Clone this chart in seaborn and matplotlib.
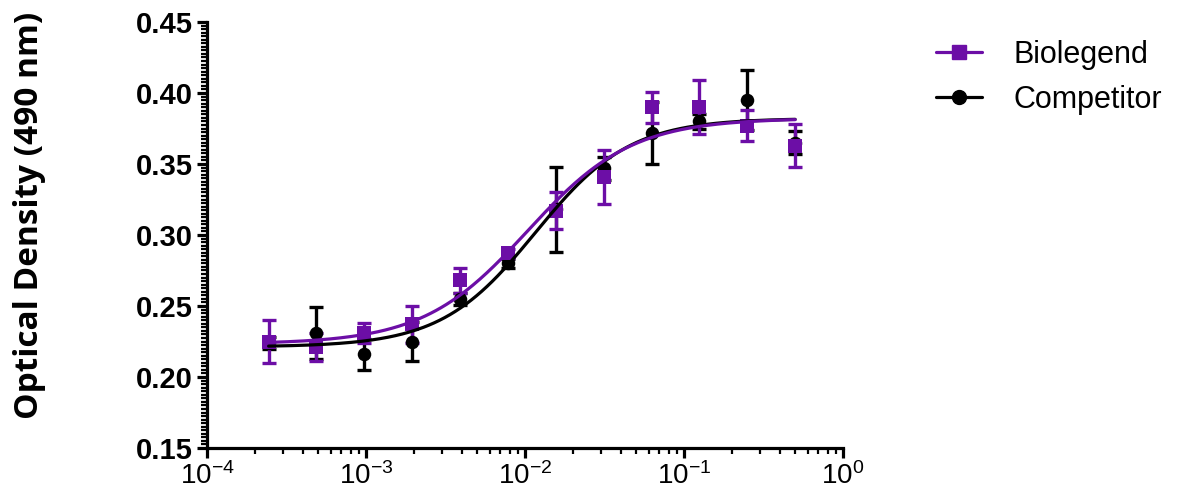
import numpy as np
import pandas as pd
import matplotlib
matplotlib.use('Agg')
import matplotlib.pyplot as plt
import seaborn as sns
from matplotlib.lines import Line2D
from matplotlib.ticker import LogLocator, MultipleLocator, FuncFormatter, NullFormatter

# --- data ---
conc = [0.000244, 0.000488, 0.000977, 0.00195, 0.0039, 0.0078,
        0.0156, 0.03125, 0.0625, 0.125, 0.25, 0.5]
bio_mean = [0.225, 0.221, 0.231, 0.237, 0.268, 0.287,
            0.317, 0.341, 0.390, 0.390, 0.377, 0.363]
bio_err = [0.015, 0.010, 0.007, 0.013, 0.009, 0.003,
           0.013, 0.019, 0.011, 0.019, 0.011, 0.015]
comp_mean = [0.224, 0.231, 0.216, 0.225, 0.255, 0.280,
             0.318, 0.347, 0.372, 0.380, 0.395, 0.365]
comp_err = [0.004, 0.018, 0.011, 0.014, 0.004, 0.003,
            0.030, 0.008, 0.022, 0.005, 0.021, 0.008]

PURPLE = '#6c0ea6'
BLACK = '#000000'

sns.set_style('ticks')
plt.rcParams['font.family'] = ['Liberation Sans', 'DejaVu Sans']
plt.rcParams['mathtext.fontset'] = 'custom'
plt.rcParams['mathtext.rm'] = 'Liberation Sans'
plt.rcParams['mathtext.it'] = 'Liberation Sans'
for k in ['text.color', 'axes.labelcolor', 'xtick.color', 'ytick.color', 'axes.edgecolor']:
    plt.rcParams[k] = 'black'


def fit_4pl(x, y):
    # sigmoidal dose-response, grid over logEC50/hill, bottom/top by least squares
    lx = np.log10(np.asarray(x))
    y = np.asarray(y)
    best = None
    for ec in np.arange(-3.5, -0.5, 0.005):
        for h in np.arange(0.5, 3.0, 0.02):
            s = 1.0 / (1.0 + 10 ** ((ec - lx) * h))
            A = np.column_stack([np.ones_like(s), s])
            coef = np.linalg.lstsq(A, y, rcond=None)[0]
            r = np.sum((A @ coef - y) ** 2)
            if best is None or r < best[0]:
                best = (r, ec, h, coef)
    _, ec, h, coef = best
    xs = np.logspace(lx.min(), lx.max(), 300)
    s = 1.0 / (1.0 + 10 ** ((ec - np.log10(xs)) * h))
    return xs, coef[0] + coef[1] * s


fig = plt.figure(figsize=(11.84, 4.98), dpi=100)
ax = fig.add_axes([207 / 1184, 1 - 448 / 498, (843 - 207) / 1184, (448 - 22) / 498])

series = [('Competitor', comp_mean, comp_err, BLACK, 'o'),
          ('Biolegend', bio_mean, bio_err, PURPLE, 's')]

for name, mean, err, col, mk in series:
    xs, ys = fit_4pl(conc, mean)
    curve = pd.DataFrame({'x': xs, 'y': ys})
    ax.errorbar(conc, mean, yerr=err, fmt='none', ecolor=col, elinewidth=2.4,
                capsize=5.2, capthick=2.4, zorder=3)
    sns.scatterplot(x=conc, y=mean, color=col, marker=mk, s=95, edgecolor=col,
                    linewidth=0, ax=ax, zorder=4)
    sns.lineplot(data=curve, x='x', y='y', color=col, linewidth=2.3, ax=ax, zorder=5)

ax.set_xscale('log')
ax.set_xlim(1e-4, 1)
ax.set_ylim(0.15, 0.45)
ax.xaxis.set_major_locator(LogLocator(base=10, numticks=10))
ax.xaxis.set_minor_locator(LogLocator(base=10, subs=np.arange(2, 10), numticks=20))
ax.xaxis.set_minor_formatter(NullFormatter())
ax.xaxis.set_major_formatter(FuncFormatter(lambda v, p: r'$\mathrm{10^{%d}}$' % int(round(np.log10(v)))))
ax.yaxis.set_major_locator(MultipleLocator(0.05))
ax.yaxis.set_minor_locator(MultipleLocator(0.0025))
ax.yaxis.set_major_formatter(FuncFormatter(lambda v, p: '%.2f' % v))

sns.despine(ax=ax)
for sp in ['left', 'bottom']:
    ax.spines[sp].set_linewidth(2.3)
ax.tick_params(axis='both', which='major', length=7, width=2.3, pad=3)
ax.tick_params(axis='both', which='minor', length=4, width=1.6)
ax.tick_params(axis='x', labelsize=20)
ax.tick_params(axis='y', labelsize=21)
for lab in ax.get_yticklabels():
    lab.set_fontweight('bold')

ax.set_xlabel('')
ax.set_ylabel('Optical Density (490 nm)', fontsize=24, fontweight='bold',
              family=['Open Sans', 'DejaVu Sans'])
ax.yaxis.set_label_coords((46 - 207) / 636, (448 - 215) / 426)

handles = [Line2D([], [], color=PURPLE, marker='s', markersize=10, linewidth=2.3),
           Line2D([], [], color=BLACK, marker='o', markersize=10, linewidth=2.3)]
fig.legend(handles, ['Biolegend', 'Competitor'], loc='upper left',
           bbox_to_anchor=(936 / 1184, 1 - 40 / 498), frameon=False,
           fontsize=22, handlelength=1.5, handletextpad=1.05, labelspacing=0.48,
           borderpad=0, borderaxespad=0)

fig.savefig('out.png', dpi=100)
